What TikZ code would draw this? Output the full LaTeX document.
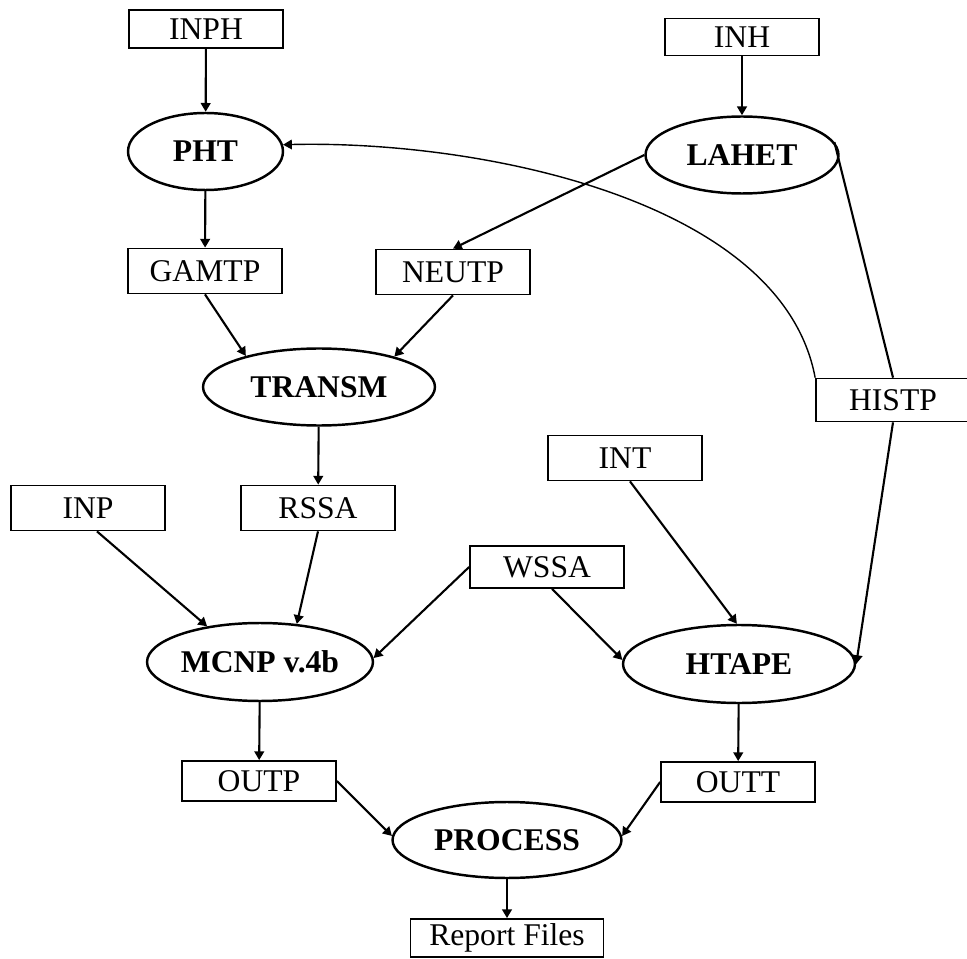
\documentclass[tikz,border=0pt]{standalone}
\usepackage{fontspec}
\setmainfont{Liberation Serif}
\usetikzlibrary{shapes.geometric,arrows.meta}

\begin{document}
\begin{tikzpicture}[x=0.02cm,y=-0.02cm,
   file/.style={draw,line width=1pt,minimum width=3.08cm,minimum height=0.9cm,inner sep=0pt,font=\fontsize{18}{21}\selectfont},
   code/.style={draw,ellipse,line width=1.4pt,minimum height=1.54cm,inner sep=0pt,font=\fontsize{18}{21}\selectfont\bfseries},
   flow/.style={line width=1.2pt,-{Triangle[length=5pt,width=5.5pt]}}]

   \clip (0,0) rectangle (967,959);

   \node[file,minimum height=0.76cm] (inph) at (206,29) {INPH};
   \node[file,minimum height=0.74cm] (inh) at (742,37) {INH};
   \node[code,minimum width=3.1cm] (pht) at (205.5,151.5) {PHT};
   \node[code,minimum width=3.86cm] (lahet) at (742,155) {LAHET};
   \node[file] (gamtp) at (205,271) {GAMTP};
   \node[file] (neutp) at (453,272) {NEUTP};
   \node[code,minimum width=4.64cm] (transm) at (319,387) {TRANSM};
   \node[file,minimum height=0.86cm] (histp) at (893,400) {HISTP};
   \node[file] (int) at (625,458) {INT};
   \node[file] (inp) at (88,508) {INP};
   \node[file] (rssa) at (318,508) {RSSA};
   \node[file,minimum height=0.84cm] (wssa) at (547,567) {WSSA};
   \node[code,minimum width=4.52cm,minimum height=1.56cm] (mcnp) at (260,662) {MCNP v.4b};
   \node[code,minimum width=4.64cm,minimum height=1.56cm] (htape) at (739,664) {HTAPE};
   \node[file,minimum height=0.8cm] (outp) at (259,781) {OUTP};
   \node[file,minimum height=0.8cm] (outt) at (738,782) {OUTT};
   \node[code,minimum width=4.58cm,minimum height=1.52cm] (process) at (507,840) {PROCESS};
   \node[file,minimum width=3.86cm,minimum height=0.76cm] (report) at (507,938) {Report Files};

   \draw[flow] (inph) -- (pht);
   \draw[flow] (inh) -- (lahet);
   \draw[flow] (pht) -- (gamtp);
   \draw[flow] (lahet.west) -- (neutp.north);
   \draw[flow] (gamtp.south) -- (transm.157);
   \draw[flow] (neutp.south) -- (transm.22);
   \draw[flow] (transm) -- (rssa);

   \draw[line width=1.2pt] (lahet.8) -- (histp.north);
   \draw[line width=0.8pt,-{Triangle[length=5pt,width=5.5pt]}] (histp.north west) .. controls (782,200) and (480,140) .. (pht.5);
   \draw[flow] (histp.south) -- (htape.east);
   \draw[flow] (int.-78) -- (htape.93);
   \draw[flow] (wssa.-77) -- (htape.178);
   \draw[flow] (wssa.west) -- (mcnp.2);
   \draw[flow] (inp.-69) -- (mcnp.146);
   \draw[flow] (rssa.south) -- (mcnp.46);

   \draw[flow] (mcnp) -- (outp);
   \draw[flow] (htape) -- (outt);
   \draw[flow] (outp.east) -- (process.178);
   \draw[flow] (outt.west) -- (process.2);
   \draw[flow] (process) -- (report);

\end{tikzpicture}
\end{document}
